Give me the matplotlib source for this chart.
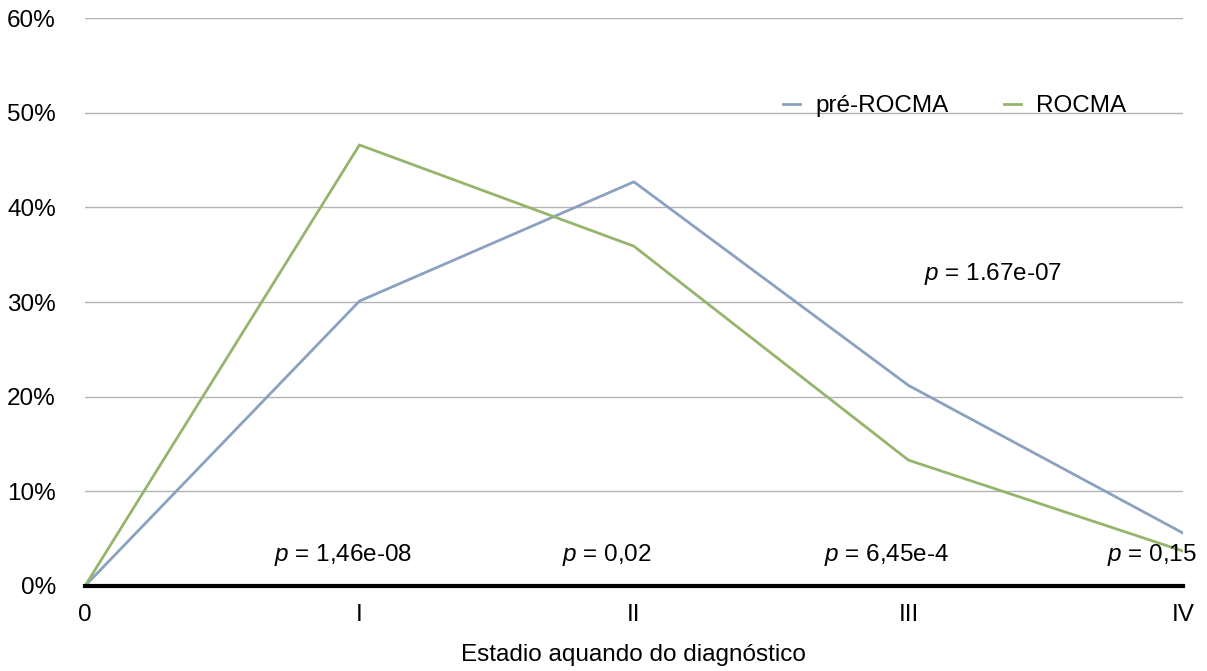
import matplotlib

matplotlib.use("Agg")
import matplotlib.pyplot as plt
from matplotlib.ticker import FuncFormatter

# ---- data ----
stages = ["0", "I", "II", "III", "IV"]
pre_rocma = [0.0, 30.1, 42.7, 21.2, 5.6]
rocma = [0.0, 46.6, 35.9, 13.3, 3.7]
y_ticks = [0, 10, 20, 30, 40, 50, 60]

# p-value annotations: (x, y, text after "p")
p_x = [0.94, 1.9, 2.92, 4.05, 3.31]
p_y = [3.3, 3.3, 3.3, 3.3, 33.0]
p_text = [" = 1,46e-08", " = 0,02", " = 6,45e-4", " = 0,15", " = 1.67e-07"]
p_align = ["center", "center", "center", "right", "center"]

plt.rcParams["font.family"] = ["Liberation Sans", "DejaVu Sans"]
plt.rcParams["font.size"] = 17.5
plt.rcParams["mathtext.fontset"] = "custom"
plt.rcParams["mathtext.it"] = "Liberation Sans:italic"

blue = "#8ba1c1"
green = "#96b56c"

fig = plt.figure(figsize=(12.07, 6.71), dpi=100)
ax = fig.add_axes([0.0704, 0.1267, 0.9096, 0.8463])

x = list(range(len(stages)))
ax.plot(x, pre_rocma, color=blue, lw=2, label="pré-ROCMA")
ax.plot(x, rocma, color=green, lw=2, label="ROCMA")

ax.set_xlim(0, 4)
ax.set_ylim(0, 60)
ax.set_xticks(x)
ax.set_xticklabels(stages)
ax.set_yticks(y_ticks)
ax.yaxis.set_major_formatter(FuncFormatter(lambda v, _: f"{v:.0f}%"))
ax.tick_params(length=0, labelsize=17.5)
ax.tick_params(axis="x", pad=13)
ax.tick_params(axis="y", pad=21)
ax.grid(axis="y", color="#b4b4b4", lw=1)
ax.set_axisbelow(True)
for s in ["top", "right", "left"]:
    ax.spines[s].set_visible(False)
ax.spines["bottom"].set_linewidth(3)
ax.spines["bottom"].set_zorder(5)

ax.set_xlabel("Estadio aquando do diagnóstico", fontsize=17.5, labelpad=13)

for px, py, t, ha in zip(p_x, p_y, p_text, p_align):
    ax.text(px, py, r"$p$" + t, ha=ha, va="center", fontsize=17.5)

ax.legend(loc="center left", bbox_to_anchor=(0.6357, 0.845), ncol=2,
          frameon=False, fontsize=17.5, handlelength=0.7,
          handletextpad=0.62, columnspacing=2.3,
          borderpad=0, borderaxespad=0)

fig.savefig("out.png", dpi=100)
